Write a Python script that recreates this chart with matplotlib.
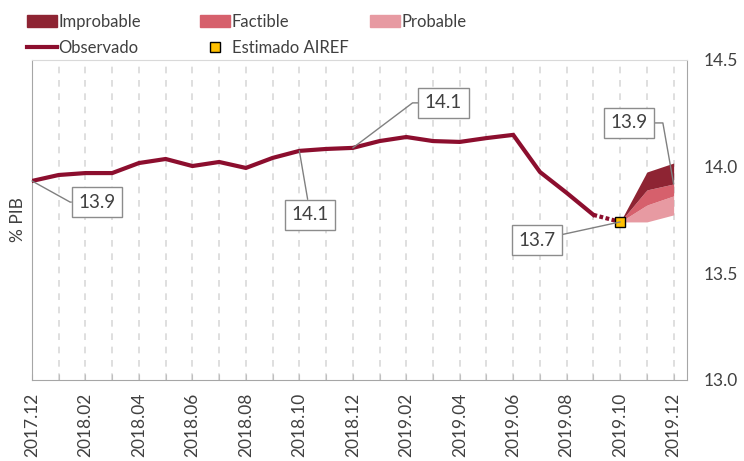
import numpy as np
import matplotlib
matplotlib.use("Agg")
import matplotlib.pyplot as plt
from matplotlib.patches import Patch
from matplotlib.lines import Line2D

plt.rcParams['font.family'] = ['Lato', 'DejaVu Sans']

# Data
months = ["2017.12", "2018.01", "2018.02", "2018.03", "2018.04", "2018.05", "2018.06",
          "2018.07", "2018.08", "2018.09", "2018.10", "2018.11", "2018.12", "2019.01",
          "2019.02", "2019.03", "2019.04", "2019.05", "2019.06", "2019.07", "2019.08",
          "2019.09", "2019.10", "2019.11", "2019.12"]
observado = [13.933, 13.961, 13.970, 13.970, 14.017, 14.036, 14.003, 14.022, 13.994,
             14.041, 14.074, 14.083, 14.088, 14.120, 14.139, 14.120, 14.116, 14.134,
             14.149, 13.975, 13.877, 13.774]
estimado = [13.774, 13.741]  # 2019.09 -> 2019.10
fan_lower = [13.741, 13.741, 13.774]        # 2019.10 .. 2019.12
fan_probable = [13.741, 13.820, 13.863]
fan_factible = [13.741, 13.891, 13.919]
fan_improbable = [13.741, 13.975, 14.017]

c_line = '#8C0E2E'
c_improb = '#8E2433'
c_fact = '#D6606C'
c_prob = '#E79AA2'
c_text = '#404040'

x = np.arange(len(months))
x_obs = x[:len(observado)]
x_est = x[len(observado) - 1:len(observado) + 1]
x_fan = x[22:25]

fig = plt.figure(figsize=(7.44, 4.61), dpi=100)
ax = fig.add_axes([32 / 744, 1 - 380 / 461, (687 - 32) / 744, (380 - 60) / 461])

# vertical dashed grid
for xi in x[1:]:
    ax.axvline(xi, color='#D9D9D9', lw=1.2, ls=(0, (4, 4)), zorder=0)

# fan chart
ax.fill_between(x_fan, fan_lower, fan_probable, color=c_prob, lw=0, zorder=2)
ax.fill_between(x_fan, fan_probable, fan_factible, color=c_fact, lw=0, zorder=2)
ax.fill_between(x_fan, fan_factible, fan_improbable, color=c_improb, lw=0, zorder=2)

ax.plot(x_obs, observado, color=c_line, lw=3, solid_joinstyle='miter', zorder=3)
ax.plot(x_est, estimado, color=c_line, lw=3, ls=(0, (0.9, 0.6)), zorder=3)
ax.plot([x[22]], [estimado[-1]], marker='s', ms=7.5, mfc='#FFC000', mec='black',
        mew=1, ls='none', zorder=5)

ax.set_xlim(0, 24.5)
ax.set_ylim(13.0, 14.5)

# axes styling
ax.yaxis.tick_right()
ax.set_yticks([13.0, 13.5, 14.0, 14.5])
ax.set_yticklabels(["13.0", "13.5", "14.0", "14.5"])
ax.tick_params(axis='y', length=0, pad=12, labelsize=12.5, labelcolor=c_text)
ax.set_xticks(x)
ax.set_xticklabels([m if i % 2 == 0 else "" for i, m in enumerate(months)],
                   rotation=90)
ax.tick_params(axis='x', direction='in', length=4, color='#BFBFBF', pad=9,
               labelsize=12.5, labelcolor=c_text)
for side in ['left', 'bottom', 'right']:
    ax.spines[side].set_color('#A6A6A6')
ax.spines['top'].set_color('#D9D9D9')
ax.set_ylabel("% PIB", fontsize=12.5, color=c_text, labelpad=4)

# data labels
box = dict(boxstyle='square,pad=0.35', fc='white', ec='#8C8C8C', lw=1)
arrow = dict(arrowstyle='-', color='#808080', lw=1, shrinkA=0, shrinkB=0)
labels = [
    ("13.9", 0, observado[0], 2.43, 13.834, "angle,angleA=0,angleB=-29,rad=0"),
    ("14.1", 10, observado[10], 10.41, 13.774, "arc3"),
    ("14.1", 12, observado[12], 15.39, 14.299, "angle,angleA=0,angleB=37,rad=0"),
    ("13.7", 22, estimado[-1], 18.88, 13.656, "arc3"),
    ("13.9", 24, fan_factible[-1], 22.32, 14.205, "angle,angleA=0,angleB=100,rad=0"),
]
for txt, xi, yi, tx, ty, cs in labels:
    a = dict(arrow)
    a['connectionstyle'] = cs
    ax.annotate(txt, xy=(xi, yi), xytext=(tx, ty), ha='center', va='center',
                fontsize=13.5, color=c_text, bbox=box, arrowprops=a, zorder=6)

# legend, one block per column
h_kw = dict(handlelength=1.8, handletextpad=0.1, labelspacing=0.62, frameon=False,
            borderpad=0, borderaxespad=0, fontsize=12, labelcolor=c_text,
            loc='upper left')
col1 = [Patch(color=c_improb), Line2D([], [], color=c_line, lw=3)]
col2 = [Patch(color=c_fact), Line2D([], [], marker='s', ms=7, mfc='#FFC000',
                                     mec='black', mew=1, ls='none')]
col3 = [Patch(color=c_prob)]
top = 1 - 14 / 461
fig.legend(col1, ["Improbable", "Observado"], bbox_to_anchor=(27 / 744, top), **h_kw)
fig.legend(col2, ["Factible", "Estimado AIREF"], bbox_to_anchor=(200 / 744, top), **h_kw)
fig.legend(col3, ["Probable"], bbox_to_anchor=(370 / 744, top), **h_kw)

fig.savefig("out.png", dpi=100)
